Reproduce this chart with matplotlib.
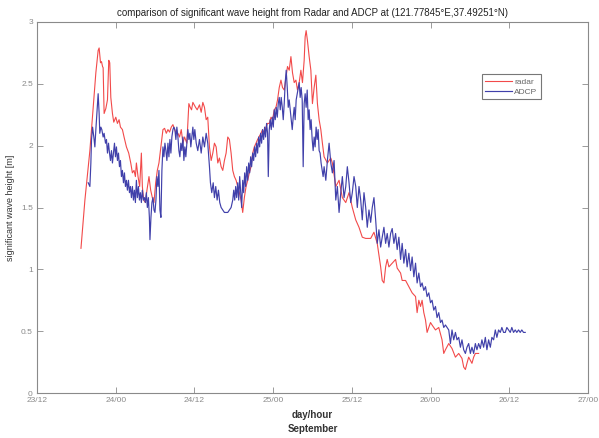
import matplotlib
matplotlib.use("Agg")
import matplotlib.pyplot as plt

plt.rcParams['font.family'] = ['Liberation Sans', 'DejaVu Sans']

# Hours elapsed since 23 Sep 12:00, and significant wave height [m]
radar_hours = [
    6.7, 7.3, 8.06, 8.97, 9.32, 9.47, 9.68, 9.83, 9.99, 10.08, 10.23, 10.49, 10.74,
    10.94, 11.09, 11.25, 11.5, 11.7, 12.01, 12.26, 12.51, 12.72, 13.02, 13.27, 13.63,
    13.98, 14.29, 14.54, 14.79, 15.0, 15.15, 15.4, 15.65, 15.91, 16.06, 16.26, 16.52,
    16.76, 17.07, 17.33, 17.58, 17.83, 18.09, 18.34, 18.59, 18.95, 19.2, 19.45, 19.71,
    19.96, 20.21, 20.47, 20.72, 20.97, 21.23, 21.48, 21.73, 21.99, 22.24, 22.49, 22.84,
    23.15, 23.36, 23.56, 23.76, 24.17, 24.42, 24.77, 25.03, 25.28, 25.53, 25.79, 26.03,
    26.29, 26.55, 26.8, 27.05, 27.31, 27.56, 27.81, 28.07, 28.32, 28.57, 28.83, 29.08,
    29.33, 29.59, 29.84, 30.09, 30.35, 30.6, 30.85, 31.11, 31.36, 31.61, 31.87, 32.12,
    32.37, 32.63, 32.88, 33.13, 33.39, 33.63, 34.15, 34.39, 34.65, 34.91, 35.15, 35.41,
    35.67, 35.91, 36.17, 36.43, 36.67, 36.93, 37.19, 37.43, 37.69, 37.95, 38.19, 38.45,
    38.71, 38.95, 39.21, 39.47, 39.71, 39.97, 40.23, 40.47, 40.73, 40.88, 41.03, 41.23,
    41.49, 41.75, 41.99, 42.25, 42.51, 42.75, 43.01, 43.27, 43.51, 43.77, 44.27, 44.79,
    45.03, 45.55, 46.05, 46.55, 47.07, 47.57, 48.07, 48.59, 49.09, 49.59, 50.11, 50.87,
    51.37, 51.87, 52.39, 52.63, 52.89, 53.15, 53.39, 53.65, 54.15, 54.67, 54.91, 55.17,
    55.43, 55.67, 56.19, 56.69, 57.19, 57.71, 57.95, 58.21, 58.47, 58.71, 58.97, 59.23,
    59.47, 59.73, 59.99, 60.23, 60.75, 61.25, 61.75, 62.01, 62.27, 62.77, 63.27, 63.79,
    64.29, 64.79, 65.05, 65.31, 65.55, 65.81, 66.31, 66.57, 66.83, 67.33,
]
radar_hs = [
    1.17, 1.56, 1.96, 2.59, 2.77, 2.79, 2.67, 2.68, 2.64, 2.63, 2.26, 2.30, 2.37,
    2.69, 2.67, 2.39, 2.26, 2.19, 2.23, 2.18, 2.21, 2.15, 2.13, 2.07, 1.99,
    1.94, 1.86, 1.78, 1.80, 1.75, 1.86, 1.75, 1.67, 1.94, 1.67, 1.56, 1.54,
    1.64, 1.75, 1.64, 1.58, 1.54, 1.70, 1.80, 1.86, 2.02, 2.13, 2.14, 2.10,
    2.13, 2.11, 2.15, 2.17, 2.13, 2.10, 2.10, 2.07, 2.13, 2.02, 2.07, 2.02,
    2.34, 2.31, 2.29, 2.35, 2.31, 2.29, 2.33, 2.27, 2.35, 2.31, 2.21, 2.23,
    1.99, 1.88, 1.94, 2.02, 1.99, 1.86, 1.90, 1.83, 1.80, 1.88, 1.94, 2.07,
    2.05, 1.94, 1.80, 1.75, 1.72, 1.67, 1.62, 1.56, 1.46, 1.58, 1.67, 1.72,
    1.78, 1.83, 1.94, 1.99, 2.02, 2.05, 2.10, 2.13, 2.10, 2.15, 2.18, 2.18,
    2.23, 2.21, 2.29, 2.31, 2.37, 2.47, 2.53, 2.47, 2.45, 2.55, 2.64, 2.61,
    2.72, 2.59, 2.51, 2.53, 2.45, 2.51, 2.61, 2.51, 2.69, 2.88, 2.93, 2.85,
    2.72, 2.61, 2.34, 2.47, 2.57, 2.34, 2.21, 2.13, 2.02, 1.91, 1.86, 1.90,
    1.86, 1.67, 1.72, 1.58, 1.54, 1.62, 1.50, 1.40, 1.34, 1.26, 1.25, 1.25,
    1.30, 1.21, 1.02, 0.91, 0.89, 1.02, 1.08, 1.02, 1.05, 1.08, 1.01, 0.99,
    0.97, 0.91, 0.91, 0.86, 0.81, 0.78, 0.65, 0.75, 0.70, 0.75, 0.65, 0.59,
    0.49, 0.53, 0.57, 0.55, 0.51, 0.53, 0.43, 0.32, 0.35, 0.40, 0.36, 0.29,
    0.32, 0.28, 0.21, 0.19, 0.24, 0.29, 0.24, 0.29, 0.32, 0.32,
]

adcp_hours = [
    7.8, 8.06, 8.21, 8.31, 8.47, 8.66, 8.82, 8.97, 9.16, 9.32, 9.47, 9.57, 9.73, 9.88,
    10.08, 10.23, 10.44, 10.59, 10.74, 10.9, 11.05, 11.2, 11.35, 11.5, 11.66, 11.81,
    11.96, 12.11, 12.26, 12.42, 12.57, 12.72, 12.87, 13.02, 13.18, 13.33, 13.48, 13.63,
    13.78, 13.94, 14.09, 14.24, 14.39, 14.54, 14.7, 14.85, 15.0, 15.15, 15.3, 15.46,
    15.61, 15.76, 15.91, 16.06, 16.22, 16.37, 16.52, 16.67, 16.82, 16.98, 17.13, 17.22,
    17.37, 17.52, 17.68, 17.83, 17.98, 18.13, 18.28, 18.44, 18.59, 18.74, 18.89, 19.04,
    19.2, 19.35, 19.5, 19.65, 19.8, 19.96, 20.11, 20.26, 20.41, 20.56, 20.72, 20.87,
    21.02, 21.17, 21.32, 21.48, 21.63, 21.78, 21.93, 22.08, 22.24, 22.39, 22.54, 22.69,
    22.84, 23.0, 23.15, 23.3, 23.45, 23.6, 23.76, 23.91, 24.06, 24.27, 24.51, 24.77,
    25.03, 25.28, 25.53, 25.79, 26.03, 26.29, 26.44, 26.64, 26.86, 27.05, 27.25, 27.46,
    27.66, 27.86, 28.07, 28.32, 28.57, 28.83, 29.08, 29.33, 29.59, 29.84, 29.99, 30.14,
    30.29, 30.44, 30.6, 30.75, 30.9, 31.05, 31.2, 31.36, 31.51, 31.66, 31.81, 31.96,
    32.12, 32.27, 32.42, 32.57, 32.72, 32.88, 33.03, 33.18, 33.33, 33.48, 33.63, 33.79,
    33.94, 34.09, 34.24, 34.39, 34.55, 34.7, 34.85, 35.0, 35.15, 35.26, 35.41, 35.56,
    35.71, 35.87, 36.02, 36.17, 36.32, 36.47, 36.63, 36.78, 36.93, 37.08, 37.23, 37.39,
    37.54, 37.69, 37.84, 37.99, 38.15, 38.3, 38.45, 38.6, 38.75, 38.91, 39.06, 39.21,
    39.36, 39.51, 39.67, 39.82, 39.97, 40.12, 40.27, 40.43, 40.58, 40.73, 40.88, 41.03,
    41.19, 41.34, 41.49, 41.64, 41.79, 41.95, 42.1, 42.25, 42.4, 42.55, 42.71, 42.86,
    43.01, 43.16, 43.31, 43.47, 43.62, 43.77, 44.03, 44.27, 44.53, 44.79, 45.03, 45.29,
    45.55, 45.79, 46.05, 46.31, 46.55, 46.81, 47.07, 47.31, 47.57, 47.83, 48.07, 48.33,
    48.59, 48.83, 49.09, 49.35, 49.59, 49.85, 50.11, 50.35, 50.61, 50.87, 51.11, 51.37,
    51.63, 51.87, 52.13, 52.39, 52.63, 52.89, 53.15, 53.39, 53.65, 53.91, 54.15, 54.41,
    54.67, 54.91, 55.17, 55.43, 55.67, 55.93, 56.19, 56.43, 56.69, 56.95, 57.19, 57.45,
    57.71, 57.95, 58.21, 58.47, 58.71, 58.97, 59.23, 59.47, 59.73, 59.99, 60.23, 60.49,
    60.75, 60.99, 61.25, 61.51, 61.75, 62.01, 62.27, 62.77, 63.03, 63.27, 63.53, 63.79,
    64.03, 64.29, 64.55, 64.79, 65.05, 65.31, 65.55, 65.81, 66.07, 66.31, 66.57, 66.83,
    67.07, 67.33, 67.59, 67.83, 68.09, 68.35, 68.59, 68.85, 69.11, 69.35, 69.61, 69.87,
    70.11, 70.37, 70.63, 70.87, 71.13, 71.39, 71.63, 71.89, 72.15, 72.39, 72.65, 72.91,
    73.15, 73.41, 73.67, 73.91, 74.17, 74.43,
]
adcp_hs = [
    1.70, 1.67, 1.86, 2.05, 2.15, 2.07, 1.99, 2.13, 2.29, 2.42, 2.26, 2.10, 2.15, 2.13,
    2.07, 2.10, 2.02, 2.05, 1.94, 2.02, 1.94, 1.88, 1.96, 1.86, 1.94, 2.02,
    1.91, 1.99, 1.88, 1.94, 1.83, 1.88, 1.75, 1.80, 1.70, 1.78, 1.67, 1.72,
    1.64, 1.72, 1.62, 1.67, 1.58, 1.67, 1.56, 1.64, 1.54, 1.72, 1.58, 1.67,
    1.56, 1.62, 1.54, 1.64, 1.56, 1.58, 1.54, 1.62, 1.50, 1.58, 1.42, 1.24,
    1.42, 1.54, 1.58, 1.48, 1.46, 1.56, 1.75, 1.67, 1.80, 1.48, 1.42, 1.80,
    1.99, 1.91, 2.02, 1.96, 1.88, 2.02, 1.91, 2.05, 1.94, 2.07, 2.13, 2.15,
    2.13, 2.05, 2.15, 2.07, 1.96, 1.91, 2.02, 1.96, 2.07, 1.88, 1.99, 1.91,
    2.02, 2.13, 2.05, 2.10, 1.99, 2.07, 2.15, 2.05, 2.13, 2.02, 1.96, 2.05,
    1.94, 2.07, 1.99, 2.10, 2.02, 1.83, 1.70, 1.62, 1.70, 1.58, 1.67, 1.56,
    1.64, 1.54, 1.50, 1.48, 1.46, 1.46, 1.46, 1.48, 1.50, 1.56, 1.64, 1.56,
    1.67, 1.58, 1.70, 1.56, 1.75, 1.62, 1.50, 1.72, 1.62, 1.78, 1.67, 1.83,
    1.72, 1.86, 1.78, 1.91, 1.83, 1.94, 1.88, 1.99, 1.91, 2.02, 1.94, 2.07,
    1.99, 2.10, 2.02, 2.13, 2.05, 2.15, 2.07, 2.18, 2.10, 1.75, 2.13, 2.21,
    2.13, 2.23, 2.15, 2.29, 2.21, 2.31, 2.23, 2.34, 2.39, 2.29, 2.39, 2.31,
    2.21, 2.34, 2.51, 2.61, 2.47, 2.31, 2.37, 2.29, 2.21, 2.13, 2.23, 2.31,
    2.21, 2.37, 2.42, 2.47, 2.51, 2.39, 2.47, 2.37, 1.83, 2.34, 2.42, 2.31,
    2.45, 2.21, 2.29, 2.13, 2.21, 2.05, 1.96, 2.07, 1.99, 2.15, 2.05, 2.13,
    1.96, 1.94, 1.86, 1.80, 1.75, 1.83, 1.72, 1.88, 2.02, 1.86, 1.78, 1.88,
    1.56, 1.67, 1.46, 1.62, 1.75, 1.58, 1.67, 1.83, 1.70, 1.54, 1.62, 1.75,
    1.67, 1.50, 1.67, 1.56, 1.40, 1.62, 1.50, 1.34, 1.48, 1.38, 1.50, 1.58,
    1.40, 1.21, 1.32, 1.18, 1.26, 1.34, 1.21, 1.29, 1.18, 1.29, 1.33, 1.21,
    1.29, 1.16, 1.26, 1.08, 1.21, 1.05, 1.16, 1.02, 1.13, 0.99, 1.10, 0.94,
    1.05, 0.89, 0.97, 0.86, 0.89, 0.83, 0.86, 0.78, 0.81, 0.73, 0.75, 0.67,
    0.70, 0.61, 0.65, 0.57, 0.59, 0.53, 0.55, 0.51, 0.40, 0.51, 0.43, 0.49,
    0.43, 0.45, 0.37, 0.43, 0.35, 0.32, 0.37, 0.40, 0.32, 0.37, 0.32, 0.40,
    0.35, 0.40, 0.36, 0.43, 0.37, 0.45, 0.35, 0.43, 0.37, 0.45, 0.43, 0.51,
    0.45, 0.51, 0.49, 0.53, 0.49, 0.49, 0.53, 0.51, 0.49, 0.53, 0.49, 0.51,
    0.49, 0.51, 0.49, 0.51, 0.49, 0.49,
]

tick_hours = [0, 12, 24, 36, 48, 60, 72, 84]
tick_labels = ['23/12', '24/00', '24/12', '25/00', '25/12', '26/00', '26/12', '27/00']
y_ticks = [0, 0.5, 1, 1.5, 2, 2.5, 3]
y_labels = ['0', '0.5', '1', '1.5', '2', '2.5', '3']

grey = '#8a8a8a'

fig = plt.figure(figsize=(5.99, 4.38), dpi=100)
ax = fig.add_axes([0.0618, 0.1027, 0.9198, 0.8471])

ax.plot(radar_hours, radar_hs, color='#f24a4a', lw=0.8, label='radar')
ax.plot(adcp_hours, adcp_hs, color='#4040aa', lw=0.85, label='ADCP')

ax.set_xlim(0, 84)
ax.set_ylim(0, 3)
ax.set_xticks(tick_hours)
ax.set_xticklabels(tick_labels)
ax.set_yticks(y_ticks)
ax.set_yticklabels(y_labels)

ax.tick_params(direction='in', length=4, width=0.6, colors=grey,
               labelsize=6, top=True, right=True, pad=3)
for s in ax.spines.values():
    s.set_color(grey)
    s.set_linewidth(0.8)

ax.set_title('comparison of significant wave height from Radar and ADCP at (121.77845°E,37.49251°N)',
             fontsize=7, color='#222222', pad=4)
ax.set_xlabel('day/hour\nSeptember', fontsize=7, fontweight='bold', color='#333333',
              linespacing=1.5, labelpad=4)
ax.set_ylabel('significant wave height [m]', fontsize=6.5, color='#333333', labelpad=4)

leg = ax.legend(loc='upper left', bbox_to_anchor=(0.8, 0.87), fontsize=6,
                frameon=True, fancybox=False, handlelength=3.2, borderpad=0.4,
                labelspacing=0.3, handletextpad=0.3)
leg.get_frame().set_edgecolor('#555555')
leg.get_frame().set_linewidth(0.8)
for t in leg.get_texts():
    t.set_color('#666666')

fig.savefig('out.png', dpi=100)
